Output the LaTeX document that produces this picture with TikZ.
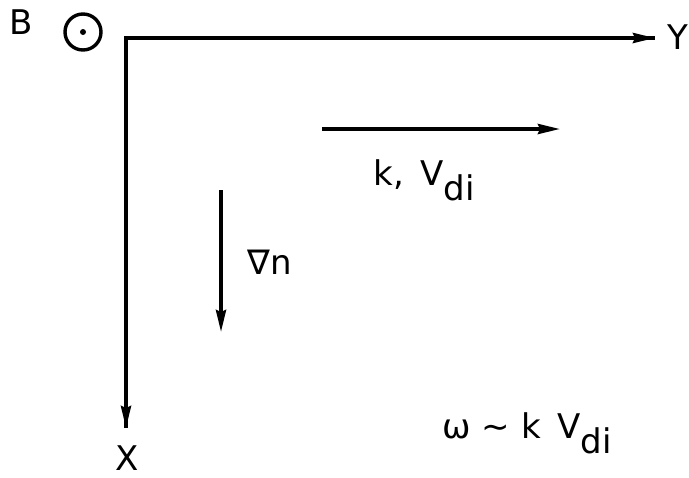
\documentclass[tikz,border=0pt]{standalone}
\usepackage{fontspec}
\setmainfont{DejaVu Sans}
\usetikzlibrary{arrows.meta}
\tikzstyle{txt} = [
    font=\fontsize{17}{20}\selectfont,
    inner sep=0pt
]
\tikzstyle{arrow} = [line width=1.7pt,-{Stealth[length=11pt,width=5pt,inset=1pt]}]
\newcommand{\sub}[1]{\raisebox{-0.45em}{#1}}

\begin{document}
\begin{tikzpicture}[x=0.5pt,y=-0.5pt]
\useasboundingbox (0,0) rectangle (689,477);

\coordinate (origin) at (126,38);
\coordinate (yend) at (655,38);
\coordinate (xend) at (126,428);

\node (B) [txt] at (21,22) {B};
\node (bfield) [circle, draw, line width=1.7pt, minimum size=18pt, inner sep=0pt] at (83,32) {};
\fill (bfield.center) circle (1.5pt);

\node (Y) [txt] at (678,37) {Y};
\node (X) [txt] at (127,458) {X};

\coordinate (kstart) at (322,129);
\coordinate (kend) at (560,129);
\node (k) [txt] at (424,180) {k,\, V\sub{di}};

\coordinate (gradstart) at (221,190);
\coordinate (gradend) at (221,332);
\node (grad) [txt] at (270,262) {∇n};

\node (omega) [txt] at (527,433) {ω ∼ k\, V\sub{di}};

\draw [line width=1.7pt] (xend) -- (origin) -- (yend);
\draw [arrow] (origin) -- (yend);
\draw [arrow] (origin) -- (xend);
\draw [arrow] (kstart) -- (kend);
\draw [arrow] (gradstart) -- (gradend);

\end{tikzpicture}
\end{document}
